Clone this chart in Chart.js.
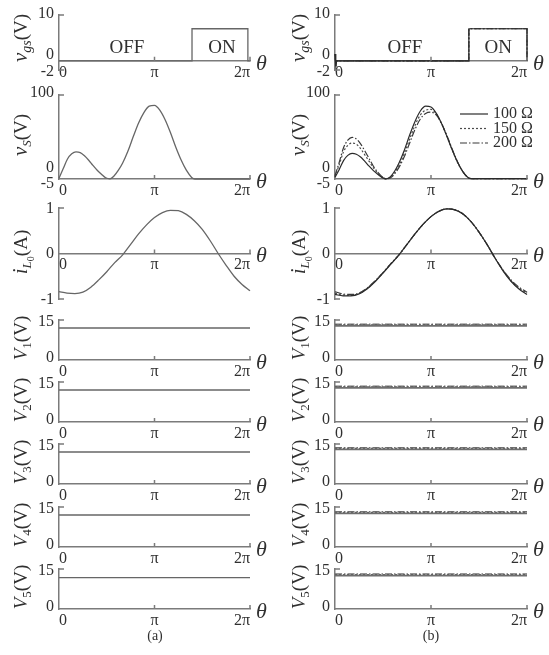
<!DOCTYPE html>
<html>
<head>
<meta charset="utf-8">
<script src="https://cdn.jsdelivr.net/npm/chart.js@4.4.0/dist/chart.umd.min.js"></script>
<style>
  body { margin: 0; background: #fff; }
  #page { position: relative; width: 549px; height: 655px; overflow: hidden; }
  #page canvas { position: absolute; left: 0; top: 0; }
</style>
</head>
<body>
<div id="page"></div>
<script>
// theta is kept in degrees: 180 = pi, 360 = 2pi
const thetaTicks = [0, 180, 360];
const thetaTickLabels = ['0', 'π', '2π'];
const loads = ['100 Ω', '150 Ω', '200 Ω'];

const thetaGrid = [0, 15, 30, 45, 60, 75, 90, 105, 120, 135, 150, 165, 180,
                   195, 210, 225, 240, 255, 270, 285, 300, 315, 330, 345, 360];
const thetaHumps = [0, 8, 16, 24, 32, 40, 48, 56, 64, 72, 80, 88, 96, 104, 112, 120,
                    130, 140, 150, 160, 170, 180, 190, 200, 210, 220, 230, 240, 250, 256, 360];
const thetaFlat = [0, 360];

// gate voltage
const vgsThetaA = [0, 250.7, 250.7, 356, 356, 360];
const vgsA = [0, 0, 7, 7, 0, 0];
const vgsThetaB = [0, 1.5, 3, 251, 251, 360, 360];
const vgsB = [1.5, -1.2, 0, 0, 7, 7, 0];

// switch voltage
const vsA = [-4, 8, 20, 26.5, 29, 28, 24, 18.5, 12, 6, 1, -3.5, -4.8, -1, 6, 15,
             30, 48, 65, 78, 86, 87, 81, 69, 53, 35, 19, 6, -3, -5, -5];
const vsB100 = [-3, 7, 18, 24.5, 27, 26, 22.5, 17, 11, 5.5, 1, -3, -4.8, -2, 5, 15,
                31, 50, 67, 80, 86, 85, 77, 64, 48, 31, 16, 4, -3.5, -4.5, -4.5];
const vsB150 = [-2, 13, 29, 37, 40, 38.5, 33, 25, 17, 9, 2.5, -2.5, -4.8, -3, 3, 12,
                27, 45, 62, 75, 81, 82, 76, 64, 48, 31, 15, 4, -3.5, -4.5, -4.5];
const vsB200 = [-1, 16, 34, 43.5, 47, 45, 39, 30, 20.5, 11, 3.5, -2, -4.8, -3.5, 1.5, 9.5,
                23, 40, 57, 70, 77, 78.5, 75, 64, 49, 32, 16, 4, -3.5, -4.5, -4.5];

// resonant current
const iA = [-0.84, -0.87, -0.88, -0.85, -0.74, -0.58, -0.4, -0.2, -0.03, 0.2, 0.43, 0.63, 0.79,
            0.9, 0.95, 0.94, 0.86, 0.72, 0.53, 0.28, 0.0, -0.26, -0.5, -0.68, -0.82];
const iB100 = [-0.9, -0.93, -0.93, -0.89, -0.78, -0.62, -0.43, -0.23, -0.03, 0.2, 0.43, 0.64, 0.81,
               0.93, 0.98, 0.96, 0.87, 0.7, 0.47, 0.2, -0.1, -0.38, -0.61, -0.78, -0.9];
const iB150 = [-0.87, -0.91, -0.92, -0.88, -0.77, -0.61, -0.42, -0.22, -0.03, 0.2, 0.43, 0.64, 0.81,
               0.93, 0.98, 0.96, 0.87, 0.7, 0.47, 0.2, -0.1, -0.37, -0.6, -0.76, -0.87];
const iB200 = [-0.84, -0.89, -0.9, -0.87, -0.76, -0.6, -0.42, -0.22, -0.03, 0.2, 0.43, 0.64, 0.81,
               0.93, 0.98, 0.96, 0.87, 0.7, 0.47, 0.2, -0.1, -0.36, -0.58, -0.74, -0.85];

// output voltages V1..V5
const vOutA = [12, 12, 12, 12, 11.8];
const vOutB100 = [12.8, 12.8, 13.0, 12.6, 12.5];
const vOutB150 = [13.1, 13.1, 13.3, 12.9, 12.8];
const vOutB200 = [13.4, 13.4, 13.6, 13.2, 13.1];

// y tick values per panel
const vgsTicks = [10, 0, -2];
const vsTicks = [100, 0, -5];
const iTicks = [1, 0, -1];
const vOutTicks = [15, 0];

// ---------- styling / layout ----------
const W = 549, H = 655;
const XAXIS_H = 26;
const SERIF = '"Liberation Serif", "DejaVu Serif", serif';
const INK = '#303030';
const AXIS = '#7b7b7b';
const lineA = { color: '#666', width: 1.3, dash: [] };
const loadStyles = [
  { color: '#2a2a2a', width: 1.2, dash: [] },
  { color: '#4a4a4a', width: 1.2, dash: [2, 2] },
  { color: '#383838', width: 1.2, dash: [7, 2, 1.5, 2] }
];
const vOutStyles = [
  { color: '#6e6e6e', width: 1.7, dash: [] },
  { color: '#5c5c5c', width: 1.6, dash: [2, 2] },
  { color: '#737373', width: 1.6, dash: [7, 2, 1.5, 2] }
];

const cols = {
  a: { left: 59, right: 250, labelX: 21, cap: '(a)', capX: 155 },
  b: { left: 335, right: 527, labelX: 299, cap: '(b)', capX: 431 }
};

const it = (s) => 'italic ' + s + 'px ' + SERIF;
const rm = (s) => s + 'px ' + SERIF;
function vLabel(k) {
  return [{ t: 'V', f: it(19) }, { t: k, f: rm(13), dy: 4 }, { t: '(V)', f: rm(19) }];
}

const rows = [
  { id: 'vgs', top: 15, bottom: 70, min: -2, max: 10, xAt: 0, ticks: vgsTicks, nudge: [-1, -6, 2], marks: [10, -2],
    labelY: 38, label: [{ t: 'v', f: it(21) }, { t: 'gs', f: it(14), dy: 4 }, { t: '(V)', f: rm(19) }] },
  { id: 'vs', top: 95, bottom: 179, min: -5, max: 100, xAt: null, ticks: vsTicks, nudge: [-2, -7, 5], marks: [100],
    labelY: 135, label: [{ t: 'v', f: it(21) }, { t: 'S', f: it(13), dy: 4 }, { t: '(V)', f: rm(19) }] },
  { id: 'i', top: 208, bottom: 299, min: -1, max: 1, xAt: 0, ticks: iTicks, nudge: [1, 0, 1], marks: [1, -1],
    labelY: 252, label: [{ t: 'i', f: it(21) }, { t: 'L', f: it(13), dy: 4 }, { t: '0', f: rm(10), dy: 7 }, { t: '(A)', f: rm(19) }] }
];
const vAxes = [360, 422, 484, 547, 609];
vAxes.forEach((b, k) => {
  rows.push({ id: 'v' + k, k: k, top: b - 40, bottom: b, min: 0, max: 15, xAt: null, ticks: vOutTicks, nudge: [2, -2],
              marks: [15], labelY: b - 22, label: vLabel(String(k + 1)) });
});

function series(thetas, values, style, label, smooth) {
  return {
    label: label,
    data: thetas.map((t, i) => ({ x: t, y: values[i] })),
    borderColor: style.color,
    borderWidth: style.width,
    borderDash: style.dash,
    pointRadius: 0,
    fill: false,
    tension: 0,
    cubicInterpolationMode: smooth ? 'monotone' : 'default',
    clip: 6
  };
}

function datasetsFor(col, row) {
  if (col === 'a') {
    if (row.id === 'vgs') return [series(vgsThetaA, vgsA, lineA, 'a', false)];
    if (row.id === 'vs') return [series(thetaHumps, vsA, lineA, 'a', true)];
    if (row.id === 'i') return [series(thetaGrid, iA, lineA, 'a', true)];
    return [series(thetaFlat, [vOutA[row.k], vOutA[row.k]], lineA, 'a', false)];
  }
  if (row.id === 'vgs') return loads.map((l, j) => series(vgsThetaB, vgsB, loadStyles[j], l, false));
  if (row.id === 'vs') return [vsB100, vsB150, vsB200].map((v, j) => series(thetaHumps, v, loadStyles[j], loads[j], true));
  if (row.id === 'i') return [iB100, iB150, iB200].map((v, j) => series(thetaGrid, v, loadStyles[j], loads[j], true));
  return [vOutB100, vOutB150, vOutB200].map((v, j) =>
    series(thetaFlat, [v[row.k], v[row.k]], vOutStyles[j], loads[j], false));
}

function drawRich(ctx, parts, cx, cy) {
  ctx.save();
  ctx.translate(cx, cy);
  ctx.rotate(-Math.PI / 2);
  let total = 0;
  parts.forEach(p => { ctx.font = p.f; total += ctx.measureText(p.t).width; });
  let x = -total / 2;
  ctx.textAlign = 'left';
  ctx.textBaseline = 'alphabetic';
  ctx.fillStyle = INK;
  parts.forEach(p => {
    ctx.font = p.f;
    ctx.fillText(p.t, x, 6 + (p.dy || 0));
    x += ctx.measureText(p.t).width;
  });
  ctx.restore();
}

function decor(col, row) {
  return {
    id: 'decor',
    afterDraw(chart) {
      const ctx = chart.ctx;
      const xs = chart.scales.x, ys = chart.scales.y;
      const area = chart.chartArea;
      const axisY = row.xAt === null ? area.bottom : ys.getPixelForValue(row.xAt);
      ctx.save();
      // inner tick marks
      ctx.strokeStyle = AXIS;
      ctx.lineWidth = 1.5;
      ctx.beginPath();
      thetaTicks.slice(1).forEach(t => {
        const x = xs.getPixelForValue(t);
        ctx.moveTo(x, axisY); ctx.lineTo(x, axisY - 4);
      });
      row.marks.forEach(v => {
        const y = ys.getPixelForValue(v);
        ctx.moveTo(area.left, y); ctx.lineTo(area.left + 5, y);
      });
      ctx.stroke();
      // y tick labels
      ctx.fillStyle = INK;
      ctx.font = rm(16);
      ctx.textAlign = 'right';
      ctx.textBaseline = 'middle';
      row.ticks.forEach((v, j) => {
        ctx.fillText(String(v), area.left - 5, ys.getPixelForValue(v) + row.nudge[j]);
      });
      // theta at the end of the axis
      ctx.font = it(22);
      ctx.textAlign = 'left';
      ctx.fillText('θ', area.right + 6, axisY + 3);
      // axis title
      drawRich(ctx, row.label, cols[col].labelX, row.labelY);
      // switch state notes
      if (row.id === 'vgs') {
        ctx.font = rm(19);
        ctx.textAlign = 'center';
        ctx.fillText('OFF', xs.getPixelForValue(col === 'a' ? 128 : 131), ys.getPixelForValue(2.9));
        ctx.fillText('ON', xs.getPixelForValue(col === 'a' ? 307 : 306), ys.getPixelForValue(2.9));
      }
      // legend
      if (col === 'b' && row.id === 'vs') {
        chart.data.datasets.forEach((ds, j) => {
          const y = 114 + j * 14.5;
          ctx.strokeStyle = ds.borderColor;
          ctx.lineWidth = ds.borderWidth;
          ctx.setLineDash(ds.borderDash);
          ctx.beginPath(); ctx.moveTo(460, y); ctx.lineTo(488, y); ctx.stroke();
          ctx.setLineDash([]);
          ctx.font = rm(16);
          ctx.textAlign = 'left';
          ctx.fillText(ds.label, 493, y);
        });
      }
      // panel caption
      if (row.k === 4) {
        ctx.font = rm(14);
        ctx.textAlign = 'center';
        ctx.fillText(cols[col].cap, cols[col].capX, 636);
      }
      ctx.restore();
    }
  };
}

const page = document.getElementById('page');
['a', 'b'].forEach(col => {
  const c = cols[col];
  rows.forEach(row => {
    // bottom axes need room for their labels; axes pinned at y = value do not take layout room
    const axisH = row.xAt === null ? XAXIS_H : 0;
    const cv = document.createElement('canvas');
    cv.width = W; cv.height = H;
    cv.style.width = W + 'px'; cv.style.height = H + 'px';
    page.appendChild(cv);
    new Chart(cv, {
      type: 'line',
      data: { datasets: datasetsFor(col, row) },
      options: {
        responsive: false,
        animation: false,
        events: [],
        layout: { autoPadding: false, padding: { left: c.left, right: W - c.right, top: row.top, bottom: H - row.bottom - axisH } },
        plugins: { legend: { display: false }, tooltip: { enabled: false } },
        scales: {
          x: {
            type: 'linear', min: 0, max: 360,
            position: row.xAt === null ? 'bottom' : { y: row.xAt },
            afterBuildTicks: s => { s.ticks = thetaTicks.map(v => ({ value: v })); },
            afterFit: s => { s.height = axisH; },
            grid: { display: false, drawTicks: false },
            border: { display: true, color: AXIS, width: 1.5 },
            ticks: {
              align: 'inner', padding: 2, maxRotation: 0, autoSkip: false, color: INK,
              font: { family: SERIF, size: 16 },
              callback: v => thetaTickLabels[thetaTicks.indexOf(v)]
            }
          },
          y: {
            type: 'linear', min: row.min, max: row.max, position: 'left',
            afterFit: s => { s.width = 0; },
            grid: { display: false, drawTicks: false },
            border: { display: true, color: AXIS, width: 1.5 },
            ticks: { display: false }
          }
        }
      },
      plugins: [decor(col, row)]
    });
  });
});
</script>
</body>
</html>
